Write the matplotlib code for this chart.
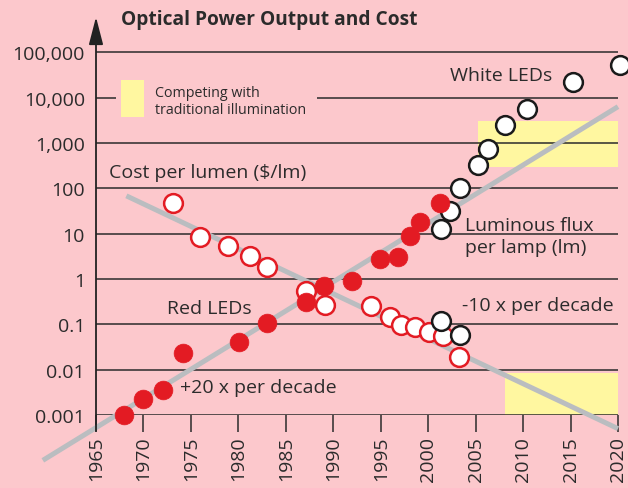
import numpy as np
import matplotlib
matplotlib.use("Agg")
import matplotlib.pyplot as plt
from matplotlib.patches import Rectangle

plt.rcParams['font.family'] = ['Open Sans', 'DejaVu Sans']

# red LEDs, luminous flux per lamp (lm)
red_flux_year = [1968, 1970, 1972.1, 1974.2, 1980.1, 1983, 1987.1, 1989, 1992, 1994.9, 1996.8, 1998.1, 1999.1, 2001.2]
red_flux = [0.001, 0.0022, 0.0035, 0.023, 0.04, 0.107, 0.31, 0.7, 0.9, 2.7, 3.1, 8.9, 18, 48]

# red LEDs, cost per lumen ($/lm)
red_cost_year = [1973.1, 1976, 1978.9, 1981.2, 1983, 1987.1, 1989.1, 1994, 1996, 1997.1, 1998.6, 2000.1, 2001.6, 2003.2]
red_cost = [48, 8.5, 5.4, 3.2, 1.8, 0.55, 0.27, 0.25, 0.145, 0.096, 0.087, 0.068, 0.055, 0.019]

# white LEDs
white_flux_year = [2001.3, 2002.3, 2003.3, 2005.2, 2006.3, 2008.1, 2010.4, 2015.3, 2020.2]
white_flux = [12.7, 32, 102, 330, 740, 2500, 5600, 22000, 53000]
white_cost_year = [2001.3, 2003.3]
white_cost = [0.118, 0.058]

# trend lines (end points)
flux_trend_year = [1959.4, 2020]
flux_trend = [1e-4, 6300]
cost_trend_year = [1968.2, 2020]
cost_trend = [68, 5e-4]

# yellow "competing with traditional illumination" zones
zone_flux = (2005.2, 2020, 300, 3000)
zone_cost = (2008.1, 2020, 0.001, 0.0085)

decades = [0.001, 0.01, 0.1, 1, 10, 100, 1000, 10000, 100000]
decade_labels = ['0.001', '0.01', '0.1', '1', '10', '100', '1,000', '10,000', '100,000']
years = list(range(1965, 2021, 5))

BG = '#fcc8cc'
RED = '#e31b23'
GRAY = '#babdc0'
YELLOW = '#fff7a0'
DARK = '#2b2b2b'

fig = plt.figure(figsize=(6.28, 4.89), dpi=100, facecolor=BG)
W, H = 628, 489
ax = fig.add_axes([96 / W, (H - 416) / H, 522 / W, (416 - 18) / H])
ax.set_facecolor(BG)
ax.set_yscale('log')
ax.set_xlim(1965, 2020)
ax.set_ylim(1e-3, 10 ** (-3 + 398 / 45.35))
for s in ax.spines.values():
    s.set_visible(False)

# yellow zones
for x0, x1, y0, y1 in (zone_flux, zone_cost):
    ax.add_patch(Rectangle((x0, y0), x1 - x0, y1 - y0, facecolor=YELLOW, edgecolor='none', zorder=1))

# gridlines
for d in decades:
    if d == 10000:
        ax.hlines(d, 1965, 1967.1, color=DARK, lw=1.1, zorder=2)
        ax.hlines(d, 1988.3, 2020, color=DARK, lw=1.1, zorder=2)
    else:
        ax.hlines(d, 1965, 2020, color=DARK, lw=1.1, zorder=2)

# y axis with arrow
ax.annotate('', xy=(0, 1.0), xytext=(0, -16 / 398), xycoords='axes fraction',
            arrowprops=dict(arrowstyle='-|>,head_length=0.85,head_width=0.22', color='#222222',
                            lw=1.3, shrinkA=0, shrinkB=0, mutation_scale=20), zorder=5)

ax.set_yticks(decades)
ax.set_yticklabels(decade_labels)
ax.yaxis.set_minor_locator(matplotlib.ticker.NullLocator())
ax.tick_params(axis='y', length=0, pad=8, labelsize=14, labelcolor=DARK)
ax.set_xticks(years)
ax.set_xticklabels([str(y) for y in years], rotation=90)
ax.tick_params(axis='x', direction='out', length=12, width=1.1, color=DARK, pad=3,
               labelsize=14, labelcolor=DARK)

# trend lines
ax.plot(flux_trend_year, flux_trend, color=GRAY, lw=3.6, solid_capstyle='butt', zorder=3, clip_on=False)
ax.plot(cost_trend_year, cost_trend, color=GRAY, lw=3.6, solid_capstyle='butt', zorder=3, clip_on=False)

ms = 13.5
ax.plot(red_cost_year, red_cost, 'o', ms=ms, mfc='white', mec=RED, mew=1.8, zorder=4, clip_on=False)
ax.plot(white_cost_year, white_cost, 'o', ms=ms, mfc='white', mec='#1a1a1a', mew=1.8, zorder=4, clip_on=False)
ax.plot(white_flux_year, white_flux, 'o', ms=ms, mfc='white', mec='#1a1a1a', mew=1.8, zorder=4, clip_on=False)
ax.plot(red_flux_year, red_flux, 'o', ms=ms, mfc=RED, mec=RED, mew=0.5, zorder=5, clip_on=False)

# annotations
tk = dict(fontsize=14, color=DARK, ha='left', va='center', zorder=6)
ax.text(2002.3, 31600, 'White LEDs', **tk)
ax.text(1966.4, 230, 'Cost per lumen ($/lm)', **tk)
ax.text(2003.9, 8.9, 'Luminous flux\nper lamp (lm)', linespacing=1.3, **tk)
ax.text(2003.6, 0.27, '-10 x per decade', **tk)
ax.text(1972.5, 0.23, 'Red LEDs', **tk)
ax.text(1973.9, 0.0042, '+20 x per decade', **tk)

# legend
fig.patches.append(Rectangle((121 / W, (H - 118) / H), 23 / W, 37 / H, facecolor=YELLOW,
                             edgecolor='none', transform=fig.transFigure, figure=fig))
fig.text(155 / W, (H - 102) / H, 'Competing with\ntraditional illumination', fontsize=10.3,
         color=DARK, ha='left', va='center', linespacing=1.2)

fig.text(121 / W, (H - 20) / H, 'Optical Power Output and Cost', fontsize=13.8, fontweight='bold',
         color=DARK, ha='left', va='center')

fig.savefig('out.png', dpi=100, facecolor=BG)
